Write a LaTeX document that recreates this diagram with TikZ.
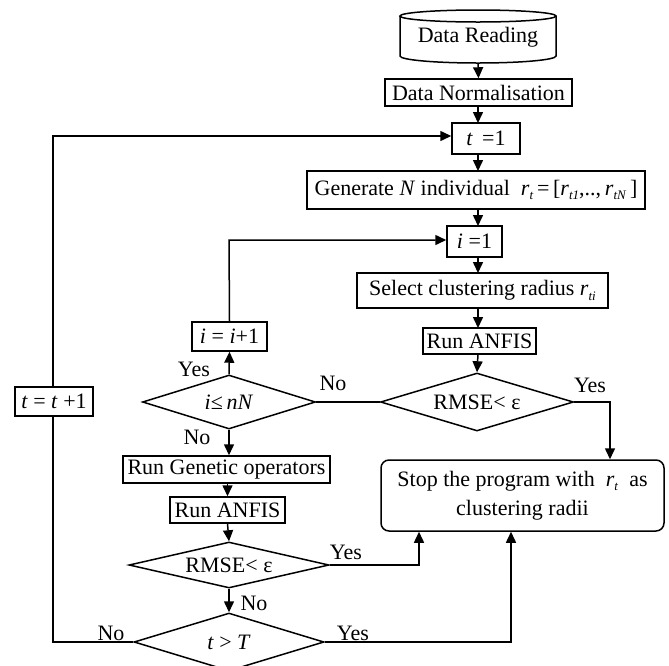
\documentclass[tikz,border=0pt]{standalone}
\usepackage{fontspec}
\setmainfont{Liberation Serif}
\usetikzlibrary{arrows.meta,shapes.geometric}
\newcommand{\sbs}[1]{\raisebox{-0.45ex}{\fontsize{6.5}{6.5}\selectfont\textit{#1}}}
\begin{document}
\begin{tikzpicture}[x=0.5pt,y=-0.5pt,
  line width=0.75pt,
  font=\fontsize{11}{14.5}\selectfont,
  box/.style={draw,rectangle,inner sep=0pt},
  dia/.style={draw,diamond,inner sep=0pt,aspect=3},
  arr/.style={-{Triangle[length=5.5pt,width=5pt]}},
  lbl/.style={inner sep=0pt}]
\useasboundingbox (0,0) rectangle (669,665);
% cylinder
\node[inner sep=0pt,minimum width=78pt,minimum height=26pt] (read) at (478,37) {Data Reading};
\draw (478,16) ellipse [x radius=39pt, y radius=3pt];
\draw (400,16) -- (400,56) arc[start angle=180,end angle=360,x radius=39pt,y radius=3.5pt] -- (556,16);
% boxes
\node[box,minimum width=93.5pt,minimum height=13.5pt] (norm) at (478.5,92.5) {Data Normalisation};
\node[box,minimum width=34pt,minimum height=15.5pt] (t1) at (486,138.5) {\textit{t}\, =1};
\node[box,minimum width=169pt,minimum height=19pt] (gen) at (476,190) {Generate \textit{N} individual \ \textit{r}\sbs{t}\,=\,[\textit{r}\sbs{t1},..,\,\textit{r}\sbs{tN}\,]};
\node[box,minimum width=27.5pt,minimum height=15.5pt] (i1) at (474.5,241.5) {\textit{i} =1};
\node[box,minimum width=125.5pt,minimum height=17.5pt] (sel) at (482.5,290.5) {Select clustering radius \textit{r}\sbs{ti}};
\node[box,minimum width=56.5pt,minimum height=13pt] (anf1) at (479.5,341) {Run ANFIS};
\node[dia,minimum width=96.5pt,minimum height=29pt] (rm1) at (477,402) {RMSE< ε};
\node[box,rounded corners=4pt,minimum width=141.5pt,minimum height=35.5pt,align=center] (stop) at (522.5,495.5) {Stop the program with \ \textit{r}\sbs{t} \ as\\clustering radii};
\node[box,minimum width=37.5pt,minimum height=14.5pt] (inc) at (229.5,336.5) {\textit{i} = \textit{i}+1};
\node[dia,minimum width=86.5pt,minimum height=27pt] (d2) at (229,402) {\textit{i}≤\,\textit{nN}};
\node[box,minimum width=103.5pt,minimum height=13.5pt] (gen2) at (226.5,469.5) {Run Genetic operators};
\node[box,minimum width=57.5pt,minimum height=13pt] (anf2) at (227.5,510) {Run ANFIS};
\node[dia,minimum width=100pt,minimum height=23pt] (rm2) at (229,565) {\raisebox{-2.5pt}{RMSE< ε}};
\node[dia,minimum width=95pt,minimum height=29pt] (tT) at (229,642) {\textit{t} > \textit{T}};
\node[box,minimum width=39pt,minimum height=14.5pt] (tinc) at (54,401.5) {\textit{t} = \textit{t} +1};
% helper coordinates
\coordinate (c1) at (610,402);
\coordinate (c2) at (229,240);
\coordinate (c3) at (419,565);
\coordinate (c4) at (511,642);
\coordinate (c5) at (53,642);
\coordinate (c6) at (53,136);
% connectors
\draw[arr] (read.south) -- (norm.north);
\draw[arr] (478,106) -- (478,123);
\draw[arr] (478,154) -- (478,171);
\draw[arr] (478,209) -- (478,226);
\draw[arr] (478,257) -- (478,273);
\draw[arr] (478,308) -- (478,328);
\draw[arr] (478,354) -- (rm1.north);
\draw[arr] (rm1.east) -- (c1) -- (c1 |- stop.north);
\draw (rm1.west) -- (d2.east);
\draw[arr] (d2.north) -- (inc.south);
\draw[arr] (inc.north) -- (c2) -- (c2 -| i1.west);
\draw[arr] (d2.south) -- (d2.south |- gen2.north);
\draw[arr] (gen2.south -| anf2.north) -- (anf2.north);
\draw[arr] (anf2.south) -- (rm2.north);
\draw[arr] (rm2.east) -- (c3) -- (c3 |- stop.south);
\draw[arr] (rm2.south) -- (tT.north);
\draw[arr] (tT.east) -- (c4) -- (c4 |- stop.south);
\draw (tT.west) -- (c5) -- (c5 |- tinc.south);
\draw[arr] (c5 |- tinc.north) -- (c6) -- (c6 -| t1.west);
% labels
\node[lbl] (l1) at (590,385) {Yes};
\node[lbl] (l2) at (333,383) {No};
\node[lbl] (l3) at (194,369) {Yes};
\node[lbl] (l4) at (197,437) {No};
\node[lbl] (l5) at (346,552) {Yes};
\node[lbl] (l6) at (254,603) {No};
\node[lbl] (l7) at (111,633) {No};
\node[lbl] (l8) at (353,633) {Yes};
\end{tikzpicture}
\end{document}
